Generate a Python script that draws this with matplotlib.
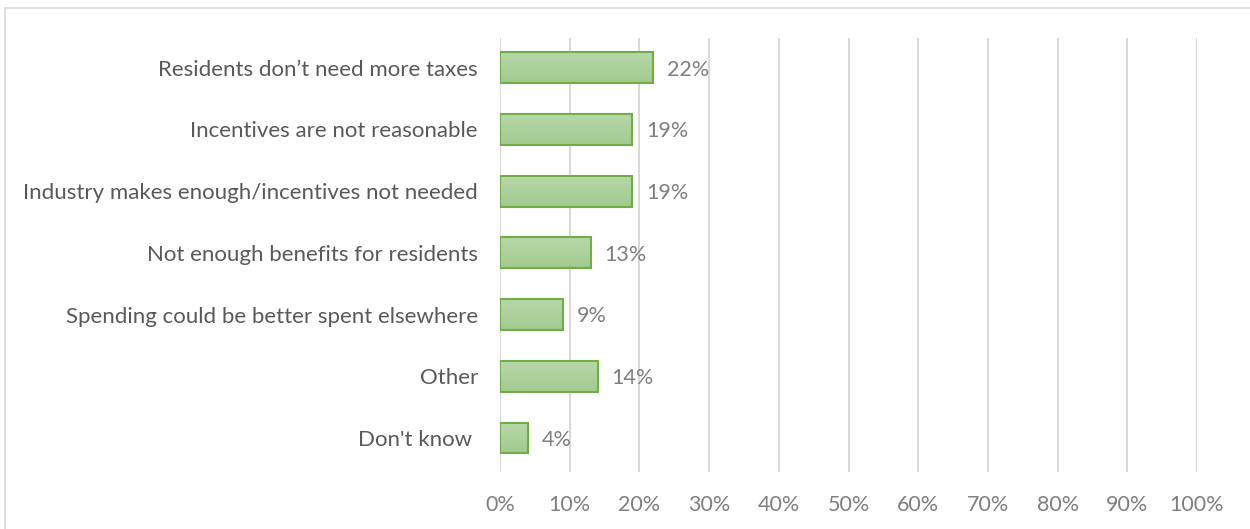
import numpy as np
import matplotlib
matplotlib.use("Agg")
import matplotlib.pyplot as plt
from matplotlib.colors import LinearSegmentedColormap
from matplotlib.patches import Rectangle

# survey answers, top to bottom
categories = [
    "Residents don\u2019t need more taxes",
    "Incentives are not reasonable",
    "Industry makes enough/incentives not needed",
    "Not enough benefits for residents",
    "Spending could be better spent elsewhere",
    "Other",
    "Don't know ",
]
values = [22, 19, 19, 13, 9, 14, 4]
tick_vals = list(range(0, 101, 10))
tick_labels = [f"{t}%" for t in tick_vals]

TEXT = "#7F7F7F"
LABEL = "#595959"
EDGE = "#70AD47"
GRID = "#D9D9D9"

plt.rcParams["font.family"] = ["Lato", "DejaVu Sans"]

fig = plt.figure(figsize=(12.5, 5.29), dpi=100)
ax = fig.add_axes([0.4, 0.108, 0.5576, 0.82])

# chart border (Excel chart area)
fig.patches.append(Rectangle((0.004, -0.1), 1.2, 1.085, transform=fig.transFigure,
                             fill=False, edgecolor=GRID, linewidth=1.2))

n = len(categories)
ypos = np.arange(n)
bh = 0.5
grad = LinearSegmentedColormap.from_list("g", ["#B7D8A9", "#A2CB8F"])
gimg = np.linspace(0, 1, 50).reshape(-1, 1)

bars = ax.barh(ypos, values, height=bh, color="none", edgecolor=EDGE, linewidth=1.5, zorder=3)
for b, v in zip(bars, values):
    x0, y0, w, h = b.get_x(), b.get_y(), b.get_width(), b.get_height()
    ax.imshow(gimg, cmap=grad, extent=(x0, x0 + w, y0 + h, y0), aspect="auto",
              origin="upper", zorder=2, interpolation="bilinear")
    ax.text(v + 2, b.get_y() + h / 2 + 0.03, f"{v}%", va="center", ha="left",
            fontsize=15.5, color=TEXT, zorder=4)

ax.set_xlim(0, 100)
ax.set_ylim(n - 0.5 + 0.05, -0.5 + 0.02)
ax.set_xticks(tick_vals)
ax.set_xticklabels(tick_labels, fontsize=15.5, color=TEXT)
ax.set_yticks(ypos)
ax.set_yticklabels(categories, fontsize=16, color=LABEL)
ax.tick_params(axis="both", length=0)
ax.tick_params(axis="x", pad=17)
ax.tick_params(axis="y", pad=16)
ax.grid(axis="x", color=GRID, linewidth=1.5, zorder=0)
for s in ax.spines.values():
    s.set_visible(False)

fig.savefig("out.png", dpi=100)
